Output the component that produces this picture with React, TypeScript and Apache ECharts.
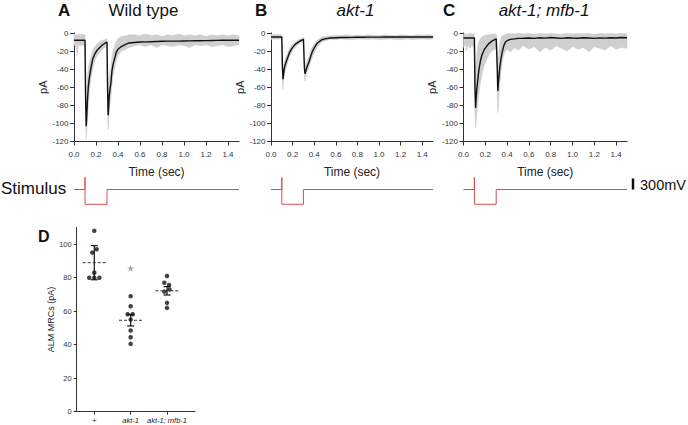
import React, { useEffect, useRef } from 'react';
import * as echarts from 'echarts';

const FONT = 'Liberation Sans, Arial, Helvetica, sans-serif';

// ---- Traces (time in s, current in pA) ----
const TIME = [0, 0.02, 0.03, 0.04, 0.06, 0.08, 0.1, 0.105, 0.111, 0.116, 0.122, 0.131, 0.14, 0.155, 0.17, 0.19, 0.21, 0.23, 0.26, 0.29, 0.3, 0.305, 0.31, 0.315, 0.32, 0.327, 0.335, 0.345, 0.355, 0.37, 0.385, 0.4, 0.43, 0.47, 0.5, 0.55, 0.6, 0.65, 0.7, 0.75, 0.8, 0.85, 0.9, 0.95, 1.0, 1.05, 1.1, 1.15, 1.2, 1.25, 1.3, 1.35, 1.4, 1.45, 1.5];

const MEAN_A = [-8, -8, -8, -8, -8, -8, -8, -70, -103, -92, -75, -58, -49, -38, -29, -23, -19, -16.5, -13, -10.7, -10, -60, -91, -82, -70, -62, -56, -42, -35, -28, -21, -18, -15, -12.5, -11, -10.5, -10, -9.8, -9.6, -9.4, -9.2, -9, -9, -9, -8.8, -8.7, -8.6, -8.5, -8.4, -8.3, -8.2, -8.1, -8, -8, -8];
const HI_A = [-1, -2, -3, -1, -2, -1, -2, -30, -80, -65, -48, -38, -32, -25, -19, -15, -12, -10, -8, -7, -6, -30, -70, -60, -50, -44, -38, -26, -20, -14, -9, -6, -4, -3, -2, -2, -3, -1, -3, -2, -4, -2, -3, -1, -3, -2, -3, -2, -4, -2, -3, -2, -3, -2, -3];
const LO_A = [-13, -14, -25, -13, -14, -13, -15, -100, -117, -108, -95, -78, -64, -50, -39, -30, -25, -22, -18, -15, -15, -85, -107, -100, -90, -80, -72, -58, -47, -38, -30, -25, -20, -18, -16, -14, -13, -15, -13, -16, -13, -14, -15, -13, -14, -16, -13, -14, -13, -15, -14, -13, -15, -14, -13];

const MEAN_B = [-4.5, -4.5, -4.5, -4.5, -4.5, -4.5, -4.5, -35, -51, -46, -40, -35, -32, -27, -22, -17.5, -14.5, -12, -9.5, -7.5, -7, -7.5, -40, -45, -43, -40, -37, -34, -31, -25, -20, -16.5, -11, -7.5, -6.5, -5.5, -5.2, -5, -4.9, -4.8, -4.7, -4.7, -4.6, -4.6, -4.6, -4.5, -4.5, -4.5, -4.5, -4.5, -4.4, -4.4, -4.4, -4.4, -4.4];
const HI_B = [-1.5, -2, -1, -2, -1.5, -2, -2, -20, -42, -39, -33, -29, -26, -22, -17.5, -13.5, -11.5, -9.5, -7, -5.5, -5, -5, -28, -38, -36, -33, -30, -28, -25, -19, -15, -12, -7.5, -4.5, -4, -3, -2.5, -3, -2, -3, -2.5, -3, -2, -2.5, -3, -2, -2.5, -3, -2, -2.5, -3, -2, -2.5, -2, -2.5];
const LO_B = [-7, -6.5, -7.5, -6.5, -7, -6.5, -7, -50, -62, -56, -48, -42, -38, -33, -27, -22, -18, -15, -12, -10, -9.5, -10, -50, -53, -50, -46, -43, -40, -37, -31, -26, -22, -15, -10, -8.5, -7, -7.5, -6.5, -7, -7.5, -6.5, -7, -7, -6.5, -7.5, -7, -6.5, -7, -7.5, -6.5, -7, -7, -6.5, -7, -6.5];

const MEAN_C = [-5.5, -5.5, -5.5, -5.5, -5.5, -5.5, -5.5, -60, -83, -72, -62, -52, -42, -31, -24, -18.5, -15, -12, -9, -7, -6.5, -6.2, -40, -64, -55, -46, -36, -28, -21, -14, -10, -8.5, -7, -6.5, -6, -5.8, -5.5, -6, -5.3, -5.7, -5, -5.5, -6, -5.2, -5.6, -5.8, -5.2, -5.5, -6, -5.4, -5.7, -5.2, -5.5, -5, -5.3];
const HI_C = [-1, -0.5, -2, -1, -0.5, -1, -1, -20, -45, -35, -25, -15, -10, -6, -4, -3, -2, -2, -1.5, -1, -1, -2, -15, -40, -28, -18, -10, -5, -3, -2, -1, -1, -0.5, -1, -0.5, -1, -0.5, -1.5, -0.5, -1, -0.5, -1, -1.5, -0.5, -1, -0.5, -1, -0.5, -1.5, -0.5, -1, -0.5, -1, -0.5, -1];
const LO_C = [-16, -13, -20, -14, -17, -13, -18, -90, -105, -100, -90, -78, -68, -55, -45, -36, -30, -25, -20, -18, -17, -18, -70, -88, -80, -68, -55, -42, -32, -24, -20, -18, -21, -16, -19, -14, -18, -15, -21, -16, -19, -14, -17, -20, -15, -18, -16, -21, -15, -17, -19, -14, -18, -16, -17];

const TIME_TICKS = [0, 0.2, 0.4, 0.6, 0.8, 1.0, 1.2, 1.4];
const PA_TICKS = [0, -20, -40, -60, -80, -100, -120];

// ---- Stimulus (mV) ----
const STIM_T = [0, 0.1, 0.1, 0.1, 0.3, 0.3, 1.5];
const STIM_MV = [0, 0, 330, -400, -400, 0, 0];
const SCALE_BAR_T = 1.555;
const SCALE_BAR_MV = [0, 300];

// ---- Panel D ----
const GROUPS = ['+', 'akt-1', 'akt-1; mfb-1'];
const WT_MRC = [108, 97, 95, 83, 80, 80, 80];
const WT_JIT = [0, 0.066, -0.055, 0, -0.14, 0, 0.14];
const AKT_MRC = [69, 63, 58.2, 58.2, 55, 48.5, 44.5, 40.5];
const AKT_JIT = [0, 0, -0.083, 0.055, 0, 0, 0, 0];
const MFB_MRC = [81, 77, 75.7, 73, 71.7, 65, 62];
const MFB_JIT = [0, -0.074, 0.055, 0.07, -0.074, 0, 0];
const GROUP_MEAN = [89, 54.6, 72.2];
const GROUP_ERR = [10.2, 3.4, 2.5];
const STAR_POS = [1, 85.7];
const MRC_TICKS = [0, 20, 40, 60, 80, 100];

const TRACE_GRIDS = [
  { left: 74, width: 165 },
  { left: 271, width: 162 },
  { left: 463.5, width: 163.5 },
];
const MEANS = [MEAN_A, MEAN_B, MEAN_C];
const LOS = [LO_A, LO_B, LO_C];
const HIS = [HI_A, HI_B, HI_C];

const AXIS_COLOR = '#333';
const BAND_COLOR = '#cfcfcf';
const STIM_COLOR = '#d94a4a';

function buildOption(): any {
  const grid: any[] = [];
  const xAxis: any[] = [];
  const yAxis: any[] = [];
  const series: any[] = [];

  TRACE_GRIDS.forEach((g, i) => {
    grid.push({ left: g.left, width: g.width, top: 33, height: 108.5 });
    xAxis.push({
      gridIndex: i, type: 'value', min: 0, max: 1.5,
      name: 'Time (sec)', nameLocation: 'middle', nameGap: 24,
      nameTextStyle: { fontSize: 12, color: '#222', fontFamily: FONT },
      axisLine: { show: true, onZero: false, lineStyle: { color: AXIS_COLOR, width: 1 } },
      axisTick: { show: true, length: 4, customValues: TIME_TICKS, lineStyle: { color: AXIS_COLOR } },
      axisLabel: { customValues: TIME_TICKS, formatter: (v: number) => v.toFixed(1), fontSize: 8, margin: 9, color: '#333', fontFamily: FONT },
      splitLine: { show: false },
    });
    yAxis.push({
      gridIndex: i, type: 'value', min: -120, max: 0,
      name: 'pA', nameLocation: 'middle', nameGap: 26,
      nameTextStyle: { fontSize: 11, color: '#222', fontFamily: FONT },
      axisLine: { show: true, onZero: false, lineStyle: { color: AXIS_COLOR, width: 1 } },
      axisTick: { show: true, length: 4, customValues: PA_TICKS, lineStyle: { color: AXIS_COLOR } },
      axisLabel: { customValues: PA_TICKS, fontSize: 8, margin: 5.5, color: '#333', fontFamily: FONT },
      splitLine: { show: false },
    });
    const lo = LOS[i];
    const hi = HIS[i];
    series.push({
      type: 'custom', xAxisIndex: i, yAxisIndex: i, silent: true, z: 1,
      data: TIME.map((t, k) => [t, lo[k], hi[k]]),
      encode: { x: 0, y: [1, 2] },
      renderItem: (params: any, api: any) => {
        if (params.dataIndex !== 0) return null;
        const upper = TIME.map((t, k) => api.coord([t, hi[k]]));
        const lower = TIME.map((t, k) => api.coord([t, lo[k]])).reverse();
        return {
          type: 'polygon',
          shape: { points: upper.concat(lower) },
          style: { fill: BAND_COLOR, stroke: BAND_COLOR, lineWidth: 0.6 },
        };
      },
    });
    series.push({
      type: 'line', xAxisIndex: i, yAxisIndex: i, z: 3, symbol: 'none', silent: true,
      data: TIME.map((t, k) => [t, MEANS[i][k]]),
      lineStyle: { color: '#111', width: 1.4 },
    });
  });

  TRACE_GRIDS.forEach((g, i) => {
    const gi = 3 + i;
    grid.push({ left: g.left, width: g.width, top: 177, height: 28 });
    xAxis.push({ gridIndex: gi, type: 'value', min: 0, max: 1.5, show: false });
    yAxis.push({ gridIndex: gi, type: 'value', min: -420, max: 340, show: false });
    series.push({
      type: 'line', xAxisIndex: gi, yAxisIndex: gi, symbol: 'none', silent: true, clip: false,
      data: STIM_T.map((t, k) => [t, STIM_MV[k]]),
      lineStyle: { color: STIM_COLOR, width: 1 },
    });
  });
  // 300 mV scale bar, drawn through the stimulus axes of panel C
  series.push({
    type: 'custom', xAxisIndex: 5, yAxisIndex: 5, silent: true, clip: false,
    data: [[SCALE_BAR_T, SCALE_BAR_MV[0], SCALE_BAR_MV[1]]],
    encode: { x: 0, y: [1, 2] },
    renderItem: (params: any, api: any) => {
      const a = api.coord([api.value(0), api.value(1)]);
      const b = api.coord([api.value(0), api.value(2)]);
      return { type: 'line', shape: { x1: a[0], y1: a[1], x2: b[0], y2: b[1] }, style: { stroke: '#111', lineWidth: 2.5 } };
    },
  });

  // Panel D
  const di = 6;
  grid.push({ left: 76.7, width: 118.3, top: 227.5, height: 184.2 });
  xAxis.push({
    gridIndex: di, type: 'value', min: -0.484, max: 2.77,
    axisLine: { show: true, onZero: false, lineStyle: { color: AXIS_COLOR, width: 1 } },
    axisTick: { show: true, length: 3, customValues: [0, 1, 2], lineStyle: { color: AXIS_COLOR } },
    axisLabel: {
      customValues: [0, 1, 2], margin: 5, color: '#222',
      formatter: (v: number) => {
        const k = Math.round(v);
        return k === 0 ? '{n|' + GROUPS[k] + '}' : '{i|' + GROUPS[k] + '}';
      },
      rich: {
        n: { fontSize: 8, fontFamily: FONT, color: '#222' },
        i: { fontSize: 7.5, fontStyle: 'italic', fontFamily: FONT, color: '#222' },
      },
    },
    splitLine: { show: false },
  });
  yAxis.push({
    gridIndex: di, type: 'value', min: 0, max: 110,
    name: 'ALM MRCs (pA)', nameLocation: 'middle', nameGap: 17,
    nameTextStyle: { fontSize: 9, color: '#222', fontFamily: FONT },
    axisLine: { show: true, onZero: false, lineStyle: { color: AXIS_COLOR, width: 1 } },
    axisTick: { show: true, length: 3, customValues: MRC_TICKS, lineStyle: { color: AXIS_COLOR } },
    axisLabel: { customValues: MRC_TICKS, fontSize: 7.5, margin: 5, color: '#333', fontFamily: FONT },
    splitLine: { show: false },
  });
  const groups = [
    [WT_MRC, WT_JIT],
    [AKT_MRC, AKT_JIT],
    [MFB_MRC, MFB_JIT],
  ];
  groups.forEach(([vals, jit], gIdx) => {
    series.push({
      type: 'scatter', xAxisIndex: di, yAxisIndex: di, symbolSize: 4.5, silent: true, z: 4,
      itemStyle: { color: '#111' },
      data: (vals as number[]).map((v, k) => [gIdx + (jit as number[])[k], v]),
    });
  });
  series.push({
    type: 'custom', xAxisIndex: di, yAxisIndex: di, silent: true, z: 5,
    data: GROUP_MEAN.map((m, k) => [k, m, GROUP_ERR[k]]),
    encode: { x: 0, y: 1 },
    renderItem: (params: any, api: any) => {
      const x = api.value(0), m = api.value(1), e = api.value(2);
      const top = api.coord([x, m + e]);
      const bot = api.coord([x, m - e]);
      const l = api.coord([x - 0.32, m]);
      const r = api.coord([x + 0.32, m]);
      const cap = 3.5;
      const st = { stroke: '#111', lineWidth: 1.2 };
      return {
        type: 'group',
        children: [
          { type: 'line', shape: { x1: l[0], y1: l[1], x2: r[0], y2: r[1] }, style: { stroke: '#333', lineWidth: 1, lineDash: [3, 2] } },
          { type: 'line', shape: { x1: top[0], y1: top[1], x2: bot[0], y2: bot[1] }, style: st },
          { type: 'line', shape: { x1: top[0] - cap, y1: top[1], x2: top[0] + cap, y2: top[1] }, style: st },
          { type: 'line', shape: { x1: bot[0] - cap, y1: bot[1], x2: bot[0] + cap, y2: bot[1] }, style: st },
        ],
      };
    },
  });
  series.push({
    type: 'scatter', xAxisIndex: di, yAxisIndex: di, silent: true, z: 4,
    symbol: 'path://M50,0 L61,35 L98,35 L68,57 L79,91 L50,70 L21,91 L32,57 L2,35 L39,35 Z',
    symbolSize: 7, itemStyle: { color: '#8a8a8a' },
    data: [STAR_POS],
  });

  const txt = (x: number, y: number, text: string, extra: any = {}) => ({
    type: 'text', x, y, silent: true,
    style: { text, fontFamily: FONT, fill: '#111', verticalAlign: 'middle', ...extra },
  });

  return {
    animation: false,
    backgroundColor: '#fff',
    textStyle: { fontFamily: FONT },
    grid, xAxis, yAxis, series,
    graphic: [
      txt(58, 10, 'A', { fontSize: 17, fontWeight: 'bold' }),
      txt(143.5, 10, 'Wild type', { fontSize: 17, align: 'center' }),
      txt(255, 10, 'B', { fontSize: 17, fontWeight: 'bold' }),
      txt(355.5, 10, 'akt-1', { fontSize: 17, align: 'center', fontStyle: 'italic' }),
      txt(443, 10, 'C', { fontSize: 17, fontWeight: 'bold' }),
      txt(544, 10, 'akt-1; mfb-1', { fontSize: 17, align: 'center', fontStyle: 'italic' }),
      txt(1, 188, 'Stimulus', { fontSize: 17 }),
      txt(640, 185, '300mV', { fontSize: 14.5 }),
      txt(38, 236, 'D', { fontSize: 16, fontWeight: 'bold' }),
    ],
  };
}

export default function App() {
  const ref = useRef<HTMLDivElement>(null);
  useEffect(() => {
    if (!ref.current) return;
    const chart = echarts.init(ref.current, undefined, { renderer: 'svg' });
    chart.setOption(buildOption());
    return () => chart.dispose();
  }, []);
  return (
    <div
      ref={ref}
      style={{ position: 'absolute', left: 0, top: 0, width: 688, height: 425, background: '#fff' }}
    />
  );
}
